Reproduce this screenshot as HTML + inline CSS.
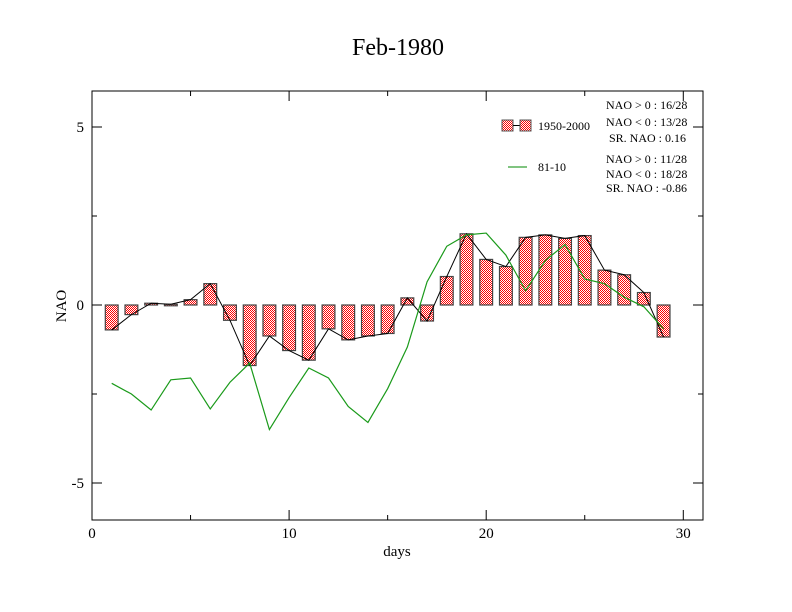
<!DOCTYPE html>
<html><head><meta charset="utf-8"><style>
body{margin:0;background:#fff}
svg{display:block;font-family:"Liberation Serif",serif}
</style></head><body>
<svg id="chart" width="792" height="612" viewBox="0 0 792 612">
<defs>
<pattern id="chk" width="2" height="2" patternUnits="userSpaceOnUse">
<rect width="2" height="2" fill="#fff"/><rect width="1" height="1" fill="#f00"/><rect x="1" y="1" width="1" height="1" fill="#f00"/>
</pattern>
</defs>
<text x="398" y="55" font-size="24" text-anchor="middle">Feb-1980</text>
<rect x="92" y="91" width="611" height="429" fill="none" stroke="#000" stroke-width="1"/>
<g id="axes"></g>
<g id="marks"></g>
<text x="397" y="556" font-size="15" text-anchor="middle">days</text>
<text x="66" y="306" font-size="15" text-anchor="middle" transform="rotate(-90 66 306)">NAO</text>
<g>
<rect x="502" y="120" width="11" height="11" fill="url(#chk)" stroke="#555"/>
<line x1="513" y1="125.5" x2="520" y2="125.5" stroke="#000"/>
<rect x="520" y="120" width="11" height="11" fill="url(#chk)" stroke="#555"/>
<text x="538" y="130" font-size="12">1950-2000</text>
<line x1="508" y1="167" x2="527" y2="167" stroke="#080" stroke-width="1"/>
<text x="538" y="171" font-size="12">81-10</text>
<text x="606" y="109" font-size="12">NAO &gt; 0 : 16/28</text>
<text x="606" y="126" font-size="12">NAO &lt; 0 : 13/28</text>
<text x="609" y="142" font-size="12">SR. NAO :  0.16</text>
<text x="606" y="163" font-size="12">NAO &gt; 0 : 11/28</text>
<text x="606" y="178" font-size="12">NAO &lt; 0 : 18/28</text>
<text x="606" y="192" font-size="12">SR. NAO : -0.86</text>
</g>
</svg>
<script>
const days=[1,2,3,4,5,6,7,8,9,10,11,12,13,14,15,16,17,18,19,20,21,22,23,24,25,26,27,28,29];
const barValues=[-0.7,-0.27,0.05,0.02,0.15,0.6,-0.43,-1.7,-0.87,-1.28,-1.55,-0.67,-0.98,-0.87,-0.8,0.2,-0.45,0.8,2.0,1.28,1.08,1.9,1.97,1.87,1.95,0.98,0.85,0.35,-0.9];
const greenValues=[-2.2,-2.5,-2.95,-2.1,-2.05,-2.92,-2.17,-1.63,-3.5,-2.6,-1.77,-2.05,-2.85,-3.3,-2.35,-1.18,0.65,1.65,1.97,2.02,1.4,0.4,1.25,1.7,0.73,0.6,0.22,-0.05,-0.67];
const xTicks=[0,10,20,30];
const yTicks=[-5,0,5];
const NS="http://www.w3.org/2000/svg";
const X=v=>92+(v-0)*(703-92)/31;
const Y=v=>305-v*35.6;
function mk(t,a,p){const e=document.createElementNS(NS,t);for(const k in a)e.setAttribute(k,a[k]);p.appendChild(e);return e;}
const ax=document.getElementById('axes'),mg=document.getElementById('marks');
for(let v=0;v<=30;v+=5){const maj=v%10==0,l=maj?10:5;
mk('line',{x1:X(v),x2:X(v),y1:520,y2:520-l,stroke:'#000'},ax);
mk('line',{x1:X(v),x2:X(v),y1:91,y2:91+l,stroke:'#000'},ax);}
for(let v=-5;v<=5;v+=2.5){const maj=v%5==0,l=maj?10:5;
mk('line',{x1:92,x2:92+l,y1:Y(v),y2:Y(v),stroke:'#000'},ax);
mk('line',{x1:703,x2:703-l,y1:Y(v),y2:Y(v),stroke:'#000'},ax);}
xTicks.forEach(v=>{const t=mk('text',{x:X(v),y:538,'font-size':15,'text-anchor':'middle'},ax);t.textContent=v;

});
yTicks.forEach(v=>{const t=mk('text',{x:84,y:Y(v)+5,'font-size':15,'text-anchor':'end'},ax);t.textContent=v;

});
const bw=0.65*(X(1)-X(0));
days.forEach((d,i)=>{const v=barValues[i];const y0=Math.min(Y(0),Y(v)),h=Math.abs(Y(v)-Y(0));
const r=mk('rect',{x:X(d)-bw/2,y:y0,width:bw,height:Math.max(h,1.5),fill:'url(#chk)',stroke:'#444','stroke-width':1.2},mg);

});
const bl=mk('polyline',{points:days.map((d,i)=>X(d)+','+Y(barValues[i])).join(' '),fill:'none',stroke:'#000','stroke-width':1},mg);


const gl=mk('polyline',{points:days.map((d,i)=>X(d)+','+Y(greenValues[i])).join(' '),fill:'none',stroke:'#1a9a1a','stroke-width':1.2},mg);


</script>
</body></html>
